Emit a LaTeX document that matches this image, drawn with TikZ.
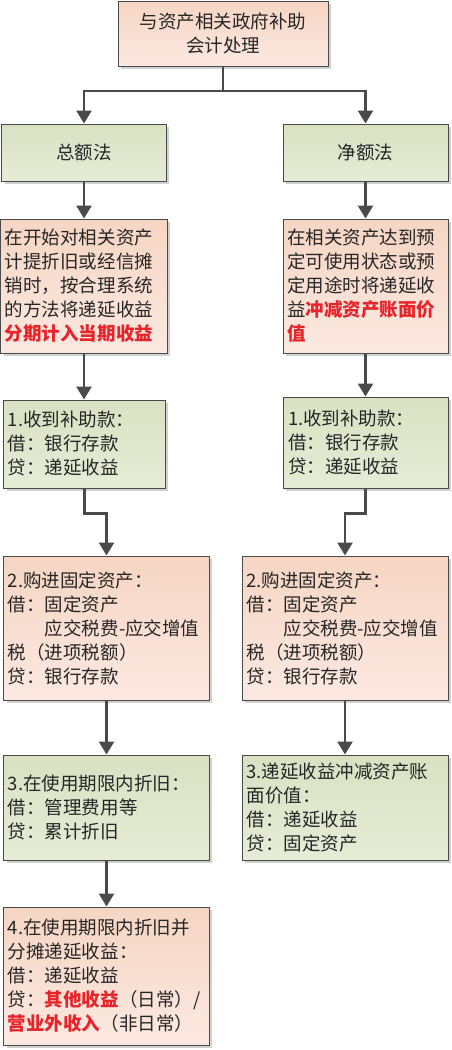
\documentclass[tikz,border=0pt]{standalone}
\usepackage{fontspec}
\usepackage{xcolor}
\usetikzlibrary{arrows.meta, shadows, calc}
\newfontfamily\cjk{Noto Sans CJK SC}

\definecolor{peachtop}{HTML}{F6D5C3}
\definecolor{peachbot}{HTML}{FBE9E1}
\definecolor{greentop}{HTML}{D9E1C3}
\definecolor{greenbot}{HTML}{E6ECD6}
\definecolor{edgegray}{HTML}{4A4A4A}
\definecolor{hired}{HTML}{E8232A}
\newcommand{\hl}[1]{{\bfseries\color{hired}#1}}

\begin{document}
\begin{tikzpicture}[
    x=1bp, y=-1bp,
    font=\cjk\fontsize{18.5bp}{24bp}\selectfont,
    box/.style={draw=edgegray, line width=1bp, inner sep=0pt, align=left, text=black!85,
        drop shadow={shadow xshift=3bp, shadow yshift=-3bp, fill=black!18, opacity=1}},
    peach/.style={box, top color=peachtop, bottom color=peachbot},
    green/.style={box, top color=greentop, bottom color=greenbot},
    arr/.style={-{Triangle[width=15bp, length=13bp]}, line width=2.6bp, draw=edgegray},
]

\useasboundingbox (0,0) rectangle (452,1050);

% top
\node[peach, align=center, minimum width=210bp, minimum height=65bp] (topic) at (223,33.5) {与资产相关政府补助\\会计处理};

% two methods
\node[green, align=center, minimum width=164bp, minimum height=57bp] (gross) at (84,152.5) {总额法};
\node[green, align=center, minimum width=165bp, minimum height=57bp] (net) at (365.5,152.5) {净额法};

\node[peach, minimum width=166bp, minimum height=134bp, text width=158bp] (grossdef) at (84,286)
    {在开始对相关资产\\计提折旧或经信摊\\销时，按合理系统\\的方法将递延收益\\\hl{分期计入当期收益}};
\node[peach, minimum width=165bp, minimum height=134bp, text width=157bp] (netdef) at (365.5,286)
    {在相关资产达到预\\定可使用状态或预\\定用途时将递延收\\益\hl{冲减资产账面价}\\\hl{值}};

% step 1
\node[green, minimum width=161bp, minimum height=88bp, text width=153bp] (gstepa) at (84.5,444)
    {1.收到补助款：\\借：银行存款\\贷：递延收益};
\node[green, minimum width=165bp, minimum height=91bp, text width=155bp] (nstepa) at (365.5,442.5)
    {1.收到补助款：\\借：银行存款\\贷：递延收益};

% step 2
\node[peach, minimum width=205bp, minimum height=144bp, text width=197bp] (gstepb) at (106.5,628)
    {2.购进固定资产：\\借：固定资产\\\hspace*{2em}应交税费-应交增值\\税（进项税额）\\贷：银行存款};
\node[peach, minimum width=206bp, minimum height=144bp, text width=197bp] (nstepb) at (345,628)
    {2.购进固定资产：\\借：固定资产\\\hspace*{2em}应交税费-应交增值\\税（进项税额）\\贷：银行存款};

% step 3
\node[green, minimum width=205bp, minimum height=105bp, text width=197bp] (gstepc) at (106.5,807.5)
    {3.在使用期限内折旧：\\借：管理费用等\\贷：累计折旧};
\node[green, minimum width=206bp, minimum height=105bp, text width=197bp] (nstepc) at (345,807.5)
    {3.递延收益冲减资产账\\面价值：\\借：递延收益\\贷：固定资产};

% step 4
\node[peach, minimum width=205bp, minimum height=138bp, text width=197bp] (gstepd) at (106.5,976)
    {4.在使用期限内折旧并\\分摊递延收益：\\借：递延收益\\贷：\hl{其他收益}（日常）/\\\hl{营业外收入}（非日常）};

\coordinate (split) at (223,91);
\draw[arr] (topic.south) -- (split) -| (gross.north);
\draw[arr] (split) -| (net.north);

\draw[arr] (gross) -- (grossdef);
\draw[arr] (net) -- (netdef);
\draw[arr] (grossdef.south) -- (gstepa.north -| grossdef.south);
\draw[arr] (netdef) -- (nstepa);
\draw[arr] (gstepa.south) -- ++(0,25) -| (gstepb.north);
\draw[arr] (nstepa.south) -- ++(0,25) -| (nstepb.north);
\draw[arr] (gstepb) -- (gstepc);
\draw[arr] (nstepb) -- (nstepc);
\draw[arr] (gstepc) -- (gstepd);

\end{tikzpicture}
\end{document}
